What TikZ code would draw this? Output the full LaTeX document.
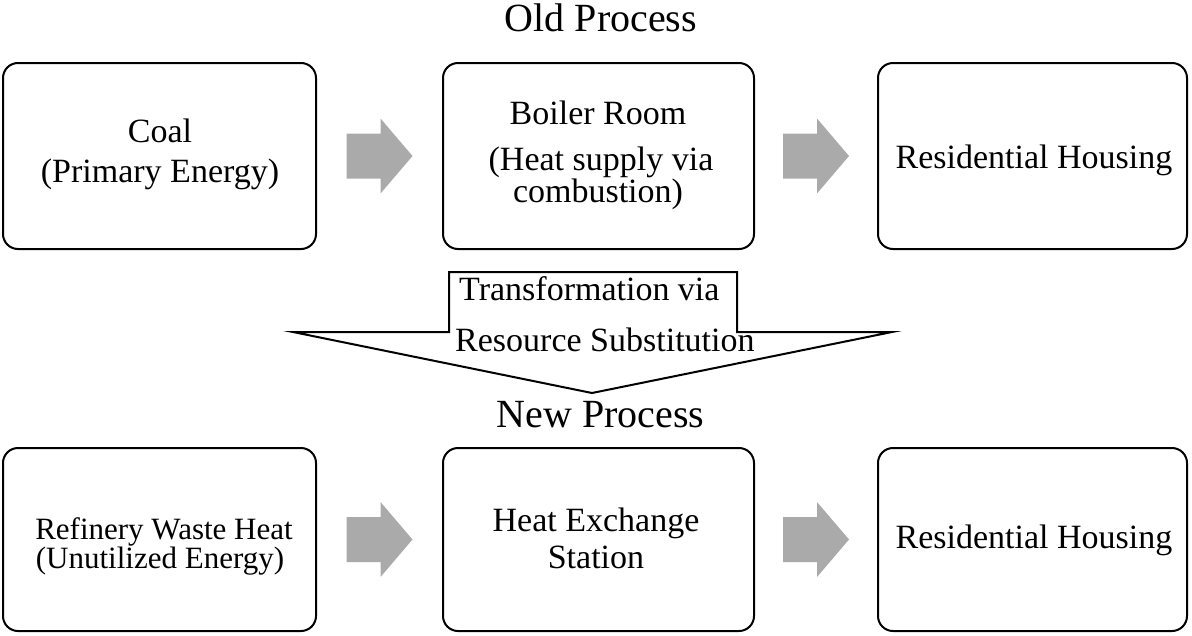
\documentclass[tikz,border=0pt]{standalone}
\usepackage{fontspec}
\setmainfont{Liberation Serif}
\usetikzlibrary{calc}
\definecolor{arrowgray}{RGB}{170,170,170}
\tikzset{
  box/.style={draw=black, line width=2pt, rounded corners=15pt, inner sep=0pt, fill=white},
  toprow/.style={minimum height=186pt},
  botrow/.style={minimum height=183pt},
  boxtext/.style={anchor=base, inner sep=0pt, font=\fontsize{34}{40}\selectfont},
  smalltext/.style={anchor=base, inner sep=0pt, font=\fontsize{31}{36}\selectfont},
  titletext/.style={anchor=base, inner sep=0pt, font=\fontsize{40}{46}\selectfont},
  bigarrow/.style={draw=black, line width=2pt, fill=white, miter limit=20}
}
\newcommand\blockarrow[2]{%
  \fill[arrowgray] ($(#1.east)!0.5!(#2.west)$) ++(-33,22.5) -- ++(34,0) -- ++(0,15)
    -- ++(32,-37.5) -- ++(-32,-37.5) -- ++(0,15) -- ++(-34,0) -- cycle;}
\begin{document}
\begin{tikzpicture}[x=1pt,y=1pt]
\useasboundingbox (0,0) rectangle (1192,-635);
% titles
\node[titletext] (old) at (601,-31) {Old Process};
\node[titletext] (new) at (600.5,-427) {New Process};
% top row boxes
\node[box,toprow,minimum width=313pt] (a1) at (159.5,-156) {};
\node[box,toprow,minimum width=311pt] (a2) at (598.5,-156) {};
\node[box,toprow,minimum width=309pt] (a3) at (1032.5,-156) {};
% bottom row boxes
\node[box,botrow,minimum width=313pt] (b1) at (159.5,-539.5) {};
\node[box,botrow,minimum width=311pt] (b2) at (598.5,-539.5) {};
\node[box,botrow,minimum width=309pt] (b3) at (1032.5,-539.5) {};
% box texts
\node[boxtext] (a1t1) at (160,-142) {Coal};
\node[boxtext] (a1t2) at (160,-182) {(Primary Energy)};
\node[boxtext] (a2t1) at (598,-124) {Boiler Room};
\node[boxtext] (a2t2) at (601,-170.5) {(Heat supply via};
\node[boxtext] (a2t3) at (598,-202) {combustion)};
\node[boxtext] (a3t1) at (1034,-168) {Residential Housing};
\node[smalltext] (b1t1) at (164,-539) {Refinery Waste Heat};
\node[smalltext] (b1t2) at (160,-568) {(Unutilized Energy)};
\node[boxtext] (b2t1) at (596,-531.5) {Heat Exchange};
\node[boxtext] (b2t2) at (596,-568) {Station};
\node[boxtext] (b3t1) at (1034,-548) {Residential Housing};
% gray block arrows
\blockarrow{a1}{a2}
\blockarrow{a2}{a3}
\blockarrow{b1}{b2}
\blockarrow{b2}{b3}
% big transformation arrow
\draw[bigarrow] (449,-272) -- (737,-272) -- (737,-332) -- (892,-332) -- (592,-393)
  -- (293,-332) -- (449,-332) -- cycle;
\node[boxtext, anchor=base west] (tr1) at (459,-300) {Transformation via};
\node[boxtext, anchor=base west] (tr2) at (455,-351) {Resource Substitution};
\end{tikzpicture}
\end{document}
